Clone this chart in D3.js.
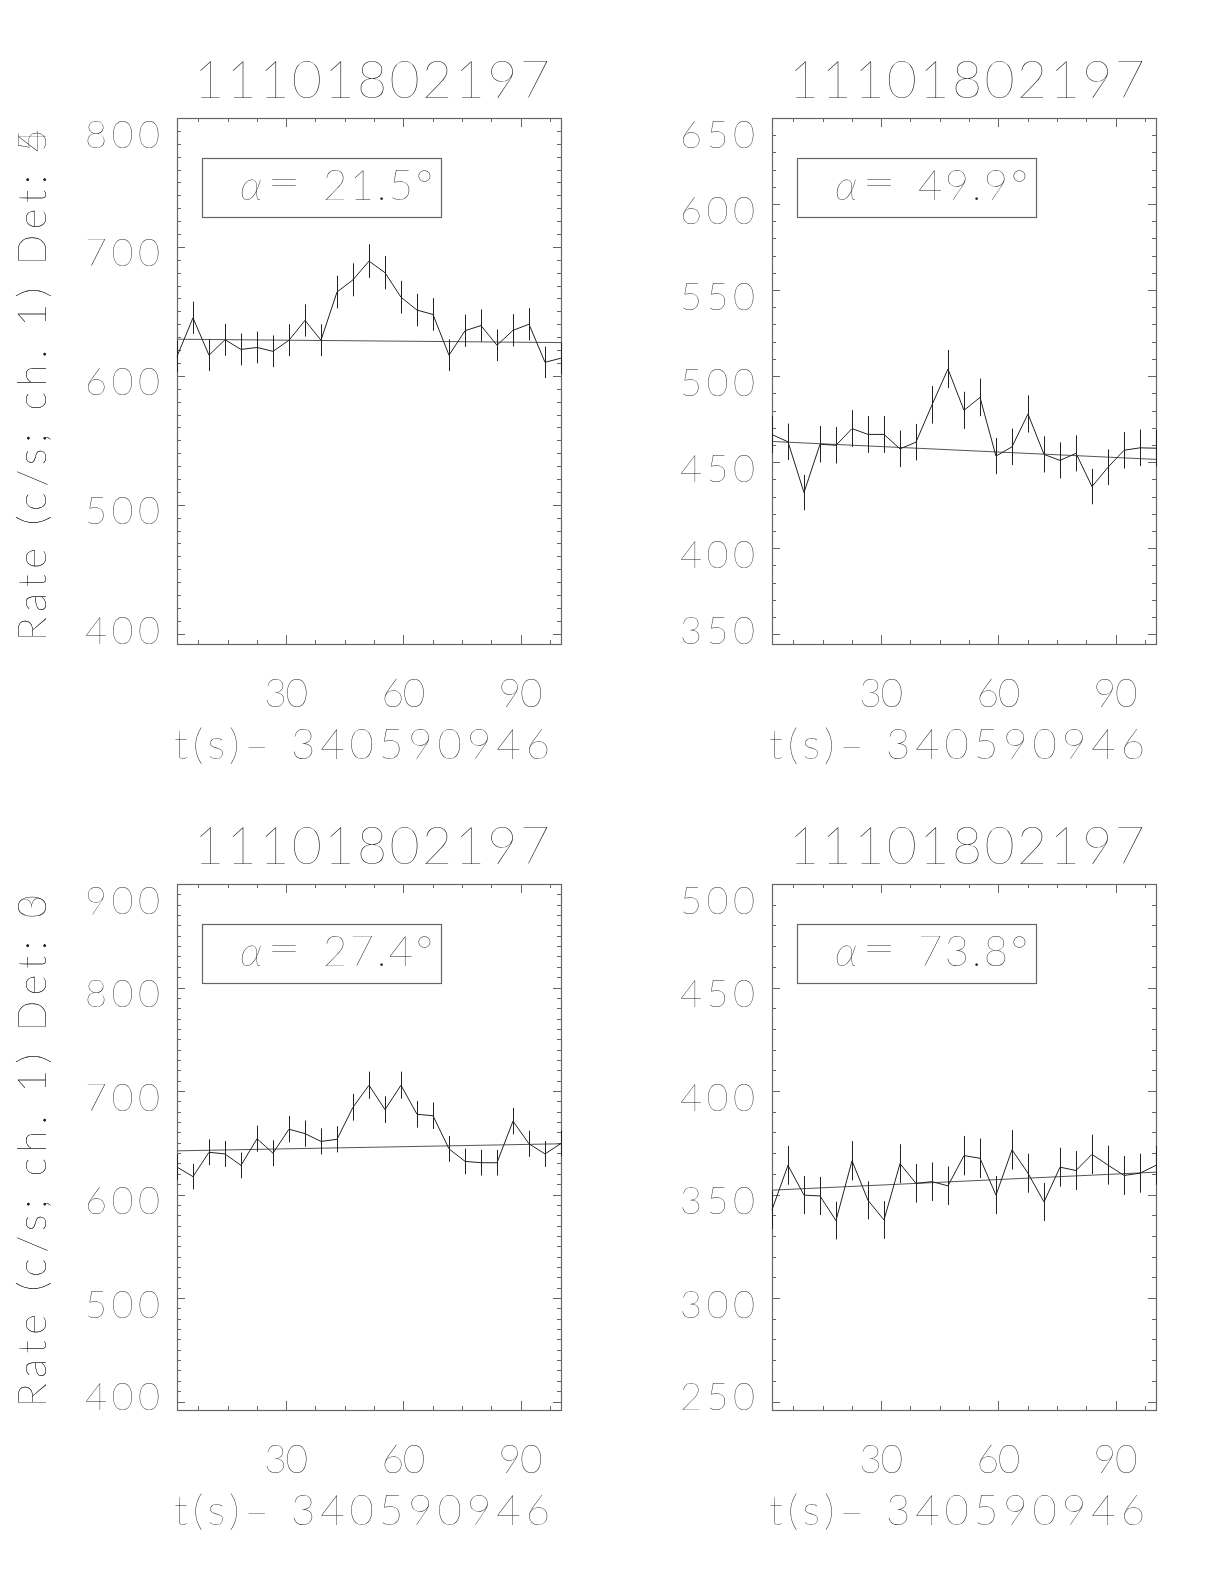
<!DOCTYPE html>
<html>
<head>
<meta charset="utf-8">
<script src="https://cdn.jsdelivr.net/npm/d3@7"></script>
<style>
  body { margin: 0; background: #fff; }
  #chart { filter: grayscale(100%); }
  svg text { font-family: Lato, Roboto, "DejaVu Sans", sans-serif; font-weight: 100; fill: #222; }
</style>
</head>
<body>
<svg id="chart" width="1224" height="1584"></svg>
<script>
// bin centres, seconds after t0
const times = [2.05, 6.14, 10.24, 14.34, 18.43, 22.53, 26.62, 30.72, 34.82, 38.91,
               43.01, 47.10, 51.20, 55.30, 59.39, 63.49, 67.58, 71.68, 75.78, 79.87,
               83.97, 88.06, 92.16, 96.26, 100.35];
const xTicks = [30, 60, 90];
const xMinor = [7.5, 15, 22.5, 30, 37.5, 45, 52.5, 60, 67.5, 75, 82.5, 90, 97.5];

const obsId = '11101802197';
const tZero = '340590946';
const detectors = [4, 5, 3, 0];
const alphas = ['21.5', '49.9', '27.4', '73.8'];

// rates (c/s) and 1-sigma errors, one array per detector
const rates4 = [615, 645, 616, 628, 620.5, 622, 619, 627.6, 643, 627.6, 665, 674.5, 689, 680, 661, 651, 647.6, 616, 635, 639, 623.7, 635.3, 640, 610.5, 613.7];
const errs4  = [12.3, 12.5, 12.3, 12.4, 12.3, 12.3, 12.3, 12.4, 12.5, 12.4, 12.7, 12.8, 13.0, 12.9, 12.7, 12.6, 12.6, 12.3, 12.5, 12.5, 12.3, 12.5, 12.5, 12.2, 12.2];
const rates5 = [466, 461.8, 432.3, 460.4, 459.8, 469.5, 466.1, 466.1, 457.7, 461.6, 483.3, 504.1, 480.1, 487.6, 453.5, 458.9, 478, 454.5, 451, 455.1, 435.8, 447, 456.9, 458.3, 458.1];
const errs5  = [10.7, 10.6, 10.3, 10.6, 10.6, 10.7, 10.7, 10.7, 10.6, 10.6, 10.9, 11.1, 10.8, 10.9, 10.5, 10.6, 10.8, 10.5, 10.5, 10.5, 10.3, 10.4, 10.6, 10.6, 10.6];
const rates3 = [626.5, 617.3, 640.8, 639.2, 628.1, 653.9, 639.9, 663.1, 658.8, 651.3, 653.3, 684.3, 705.6, 682, 705.6, 677.5, 676.1, 644.1, 632, 630.7, 630.7, 670.9, 649, 639.2, 649.3];
const errs3  = [12.4, 12.3, 12.5, 12.5, 12.4, 12.6, 12.5, 12.7, 12.7, 12.6, 12.6, 12.9, 13.1, 12.9, 13.1, 12.9, 12.8, 12.5, 12.4, 12.4, 12.4, 12.8, 12.6, 12.5, 12.6];
const rates0 = [342.6, 364.1, 349.7, 349.3, 337.4, 366.3, 347.2, 337.7, 364.9, 355.4, 356.2, 354.2, 368.8, 367.5, 349.7, 371.6, 360.3, 346.4, 363.2, 361.6, 369.4, 364.2, 359.2, 360.3, 364.1];
const errs0  = [9.2, 9.4, 9.2, 9.2, 9.1, 9.5, 9.2, 9.1, 9.4, 9.3, 9.3, 9.3, 9.5, 9.5, 9.2, 9.5, 9.4, 9.2, 9.4, 9.4, 9.5, 9.4, 9.4, 9.4, 9.4];

// linear background fit, value at first and last bin
const fit4 = [628.4, 625.8];
const fit5 = [462.0, 451.6];
const fit3 = [642.2, 649.0];
const fit0 = [352.1, 360.8];

const yDomains = [[392, 800], [344.3, 650], [391.8, 900], [245.9, 500]];
const yTicks = [
  [400, 500, 600, 700, 800],
  [350, 400, 450, 500, 550, 600, 650],
  [400, 500, 600, 700, 800, 900],
  [250, 300, 350, 400, 450, 500]
];

const panels = [
  { rates: rates4, errs: errs4, fit: fit4 },
  { rates: rates5, errs: errs5, fit: fit5 },
  { rates: rates3, errs: errs3, fit: fit3 },
  { rates: rates0, errs: errs0, fit: fit0 }
];

const cols = [177, 772], rows = [118, 884];
const w = 384, h = 526;
const axisColor = '#666', lineColor = '#222';

const svg = d3.select('#chart');

panels.forEach((p, i) => {
  const x0 = cols[i % 2], y0 = rows[Math.floor(i / 2)];
  const g = svg.append('g').attr('transform', `translate(${x0},${y0})`);

  const x = d3.scaleLinear().domain([times[0], times[times.length - 1]]).range([0, w]);
  const y = d3.scaleLinear().domain(yDomains[i]).range([h, 0]);
  const yMinor = d3.range(Math.ceil(yDomains[i][0] / 10) * 10, yDomains[i][1] + 0.1, 10);

  // axes: ticks point inward on all four sides
  const addAxis = (axis, tf) => {
    const a = g.append('g').attr('transform', tf).call(axis);
    a.select('.domain').remove();
    a.selectAll('line').attr('stroke', axisColor).attr('shape-rendering', 'crispEdges');
    a.selectAll('text').remove();
  };
  addAxis(d3.axisBottom(x).tickValues(xMinor).tickSize(-4), `translate(0,${h})`);
  addAxis(d3.axisBottom(x).tickValues(xTicks).tickSize(-9), `translate(0,${h})`);
  addAxis(d3.axisTop(x).tickValues(xMinor).tickSize(-4), 'translate(0,0)');
  addAxis(d3.axisTop(x).tickValues(xTicks).tickSize(-9), 'translate(0,0)');
  addAxis(d3.axisLeft(y).tickValues(yMinor).tickSize(-4), 'translate(0,0)');
  addAxis(d3.axisLeft(y).tickValues(yTicks[i]).tickSize(-8), 'translate(0,0)');
  addAxis(d3.axisRight(y).tickValues(yMinor).tickSize(-4), `translate(${w},0)`);
  addAxis(d3.axisRight(y).tickValues(yTicks[i]).tickSize(-8), `translate(${w},0)`);

  g.append('rect')
    .attr('x', 0.5).attr('y', 0.5).attr('width', w).attr('height', h)
    .attr('fill', 'none').attr('stroke', axisColor).attr('stroke-width', 1.2);

  // tick labels (end labels kept inside the frame, as in the original)
  g.selectAll('.ylab').data(yTicks[i]).join('text')
    .attr('class', 'ylab')
    .attr('x', -17)
    .attr('y', d => Math.min(Math.max(y(d) + 6, 16), h - 14) + 13.5)
    .attr('text-anchor', 'end')
    .attr('font-size', 38)
    .attr('textLength', 75).attr('lengthAdjust', 'spacing')
    .text(d => d);
  g.selectAll('.xlab').data(xTicks).join('text')
    .attr('class', 'xlab')
    .attr('x', d => x(d)).attr('y', h + 63)
    .attr('text-anchor', 'middle')
    .attr('font-size', 39)
    .attr('textLength', 44).attr('lengthAdjust', 'spacing')
    .text(d => d);

  // titles
  g.append('text')
    .attr('x', w / 2 + 3).attr('y', -20)
    .attr('text-anchor', 'middle')
    .attr('font-size', 52)
    .attr('textLength', 356).attr('lengthAdjust', 'spacing')
    .text(obsId);
  g.append('text')
    .attr('x', w / 2 - 7).attr('y', h + 115)
    .attr('text-anchor', 'middle')
    .attr('font-size', 42)
    .attr('textLength', 376).attr('lengthAdjust', 'spacing')
    .text(`t(s)\u2013 ${tZero}`);
  g.append('text')
    .attr('transform', `translate(${46 - x0},${267}) rotate(-90)`)
    .attr('text-anchor', 'middle')
    .attr('font-size', 40)
    .attr('textLength', 512).attr('lengthAdjust', 'spacing')
    .text(`Rate (c/s; ch. 1) Det: ${detectors[i]}`);

  // angle box
  g.append('rect')
    .attr('x', 25.5).attr('y', 40.5).attr('width', 239).attr('height', 59)
    .attr('fill', 'none').attr('stroke', axisColor).attr('stroke-width', 1.2);
  g.append('text')
    .attr('x', 63).attr('y', 82)
    .attr('font-size', 42).attr('font-style', 'italic')
    .text('\u03b1');
  g.append('text')
    .attr('x', 90).attr('y', 79)
    .attr('font-size', 42)
    .attr('textLength', 34).attr('lengthAdjust', 'spacingAndGlyphs')
    .text('=');
  g.append('text')
    .attr('x', 146).attr('y', 82)
    .attr('font-size', 42)
    .attr('textLength', 110).attr('lengthAdjust', 'spacing')
    .text(`${alphas[i]}\u00b0`);

  // background fit
  g.append('line')
    .attr('x1', x(times[0])).attr('y1', y(p.fit[0]))
    .attr('x2', x(times[times.length - 1])).attr('y2', y(p.fit[1]))
    .attr('stroke', '#555').attr('stroke-width', 1);

  // error bars
  g.selectAll('.err').data(p.rates).join('line')
    .attr('class', 'err')
    .attr('x1', (d, k) => Math.round(x(times[k])) + 0.5)
    .attr('x2', (d, k) => Math.round(x(times[k])) + 0.5)
    .attr('y1', (d, k) => y(d - p.errs[k]))
    .attr('y2', (d, k) => y(d + p.errs[k]))
    .attr('stroke', lineColor).attr('stroke-width', 1);

  // light curve
  g.append('path')
    .datum(p.rates)
    .attr('fill', 'none')
    .attr('stroke', lineColor).attr('stroke-width', 1)
    .attr('d', d3.line().x((d, k) => x(times[k])).y(d => y(d)));
});
</script>
</body>
</html>
